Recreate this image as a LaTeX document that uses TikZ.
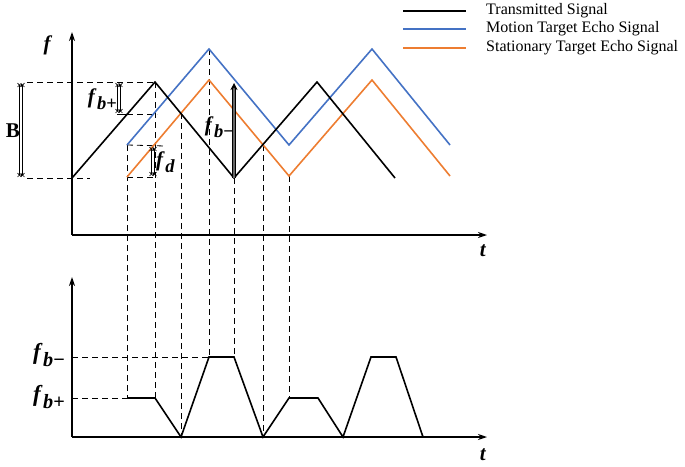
\documentclass[tikz,border=0pt]{standalone}
\usepackage{fontspec}
\setmainfont{Liberation Serif}
\usepackage{graphicx}
\usetikzlibrary{arrows.meta}
\definecolor{mblue}{HTML}{4472C4}
\definecolor{sorange}{HTML}{ED7D31}
\newcommand{\fsub}[1]{\textbf{\textit{f}}\kern0.5pt\raisebox{-0.28em}{\scalebox{0.88}{\textbf{#1}}}}
\begin{document}
\begin{tikzpicture}[x=1pt,y=-1pt,
  axis/.style={line width=1.2pt,-{Stealth[length=9pt,width=6pt]}},
  sig/.style={line width=1.6pt,line join=miter},
  guide/.style={dashed,line width=0.8pt,dash pattern=on 6pt off 4pt},
  dimtip/.style={line width=0.7pt,{Straight Barb[length=3.5pt,width=7pt]}-{Straight Barb[length=3.5pt,width=7pt]}},
  dimpar/.style={line width=0.7pt,shorten <=2pt,shorten >=2pt},
  lbl/.style={font=\fontsize{21}{25}\selectfont,inner sep=0pt},
  leg/.style={font=\fontsize{16}{19}\selectfont,anchor=west,inner sep=0pt}]
\useasboundingbox (0,0) rectangle (685,466);
% key points
\coordinate (O1) at (72,235); \coordinate (Y1) at (72,32); \coordinate (X1) at (487,235);
\coordinate (O2) at (72,437); \coordinate (Y2) at (72,277); \coordinate (X2) at (487,437);
\coordinate (T0) at (72,178); \coordinate (T1) at (155,82); \coordinate (T2) at (234,178);
\coordinate (T3) at (317,82); \coordinate (T4) at (395,178);
\coordinate (M0) at (127,145); \coordinate (M1) at (209,49); \coordinate (M2) at (289,145);
\coordinate (M3) at (372,49); \coordinate (M4) at (450,145);
\coordinate (S0) at (127,177); \coordinate (S1) at (209,80); \coordinate (S2) at (289,176);
\coordinate (S3) at (372,80); \coordinate (S4) at (450,176);
\coordinate (I1) at (181,113); \coordinate (I2) at (263,145);
% bottom trace points
\coordinate (B1) at (127,398); \coordinate (B2) at (155,398); \coordinate (B3) at (181,437);
\coordinate (B4) at (209,357); \coordinate (B5) at (234,357); \coordinate (B6) at (263,437);
\coordinate (B7) at (289,398); \coordinate (B8) at (318,398); \coordinate (B9) at (343,437);
\coordinate (B10) at (371,357); \coordinate (B11) at (396,357); \coordinate (B12) at (423,437);
\coordinate (Lp) at (72,398); \coordinate (Lm) at (72,357);
% dimension helpers
\coordinate (Dt) at (27,82); \coordinate (Db) at (27,178); \coordinate (Dbe) at (90,178);
\coordinate (Ba) at (21,83); \coordinate (Bb) at (21,177);
\coordinate (Pa) at (119,83); \coordinate (Pb) at (119,113); \coordinate (Pl) at (117,114);
\coordinate (Pe) at (157,114); \coordinate (Pk) at (127,114);
\coordinate (Fa) at (153,147); \coordinate (Fb) at (153,176);
\coordinate (Ft) at (165,146); \coordinate (Fbe) at (157,177);
\coordinate (Gt) at (234,83);
% guides top
\draw[guide] (Dt) -- (T1);
\draw[guide] (Db) -- (Dbe);
\draw[guide] (Pk) -- (Pe);
\draw[line width=0.8pt] (Pl) -- (Pk);
\draw[guide] (M0) -- (Ft);
\draw[guide] (S0) -- (Fbe);
% vertical guides
\draw[guide] (M0) -- (B1);
\draw[guide] (T1) -- (B2);
\draw[guide] (I1) -- (B3);
\draw[guide] (M1) -- (B4);
\draw[guide] (T2) -- (B5);
\draw[guide] (I2) -- (B6);
\draw[guide] (S2) -- (B7);
\draw[guide] (Lm) -- (B4);
\draw[guide] (Lp) -- (B1);
% axes
\draw[axis] (O1) -- (Y1);
\draw[axis] (O1) -- (X1);
\draw[axis] (O2) -- (Y2);
\draw[axis] (O2) -- (X2);
% signals
\draw[sig,mblue] (M0) -- (M1) -- (M2) -- (M3) -- (M4);
\draw[sig,sorange] (S0) -- (S1) -- (S2) -- (S3) -- (S4);
\draw[sig,black] (T0) -- (T1) -- (T2) -- (T3) -- (T4);
\draw[sig,black] (B1) -- (B2) -- (B3) -- (B4) -- (B5) -- (B6) -- (B7) -- (B8) -- (B9) -- (B10) -- (B11) -- (B12);
% dimension arrows (double-lined)
\foreach \a/\b in {Ba/Bb,Pa/Pb,Fa/Fb}{
  \draw[dimpar] ([xshift=-1.3pt]\a) -- ([xshift=-1.3pt]\b);
  \draw[dimpar] ([xshift=1.3pt]\a) -- ([xshift=1.3pt]\b);
  \draw[dimtip,shorten <=0pt] (\a) -- ([yshift=-4pt]\a);
  \draw[dimtip] ([yshift=4pt]\b) -- (\b);
}
\draw[line width=0.5pt,double=black!60,double distance=2.4pt,-{Stealth[length=7pt,width=7pt]}] (T2) -- (Gt);
% labels
\node[lbl] (lf) at (48,45) {\textbf{\textit{f}}};
\node[lbl] (lt1) at (483,251) {\textbf{\textit{t}}};
\node[lbl] (lt2) at (483,455) {\textbf{\textit{t}}};
\node[lbl] (lB) at (13,131) {\textbf{B}};
\node[lbl,anchor=east] (lbp) at (117,99) {\fsub{\textit{b}+}};
\node[lbl,anchor=west] (lfd) at (156,162) {\fsub{\textit{d}}};
\node[lbl,anchor=east] (lbm) at (234,127) {\fsub{\textit{b}−}};
\node[lbl,anchor=east,font=\fontsize{23}{27}\selectfont] (lbm2) at (65,355) {\fsub{\textit{b}−}};
\node[lbl,anchor=east,font=\fontsize{23}{27}\selectfont] (lbp2) at (65,397) {\fsub{\textit{b}+}};
% legend
\coordinate (La1) at (403,11); \coordinate (Lb1) at (466,11);
\coordinate (La2) at (403,29); \coordinate (Lb2) at (466,29);
\coordinate (La3) at (403,48); \coordinate (Lb3) at (466,48);
\draw[line width=1.6pt,black] (La1) -- (Lb1);
\draw[line width=1.6pt,mblue] (La2) -- (Lb2);
\draw[line width=1.6pt,sorange] (La3) -- (Lb3);
\node[leg] (t1) at (486,11) {Transmitted Signal};
\node[leg] (t2) at (486,29) {Motion Target Echo Signal};
\node[leg] (t3) at (486,48) {Stationary Target Echo Signal};
\end{tikzpicture}
\end{document}
